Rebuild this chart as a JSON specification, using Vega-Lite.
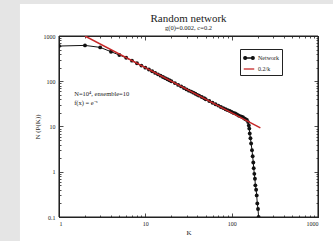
{
  "$schema": "https://vega.github.io/schema/vega-lite/v6.json",
  "autosize": "none",
  "padding": {"left": 59, "top": 36, "right": 15, "bottom": 24},
  "width": 259,
  "height": 181,
  "background": "white",
  "title": {
    "text": "Random network",
    "subtitle": "g(0)=0.002, c=0.2",
    "font": "Liberation Serif",
    "fontSize": 11,
    "fontWeight": "normal",
    "color": "#222",
    "subtitleFont": "Liberation Serif",
    "subtitleFontSize": 6.5,
    "subtitleColor": "#222",
    "subtitlePadding": 1,
    "anchor": "middle",
    "frame": "group",
    "offset": -34
  },
  "config": {
    "axis": {
      "grid": false,
      "labelFont": "Liberation Serif",
      "labelFontSize": 6,
      "labelColor": "#222",
      "titleFont": "Liberation Serif",
      "titleFontSize": 7,
      "titleFontWeight": "normal",
      "titleColor": "#222",
      "domainColor": "#222",
      "tickColor": "#222",
      "tickWidth": 0.8
    },
    "view": {"stroke": null}
  },
  "layer": [
    {
      "data": {"values": [{"part": "left margin"}]},
      "mark": {"type": "rect", "fill": "#e5e5e5", "clip": false},
      "encoding": {
        "x": {"datum": 0.1, "type": "quantitative", "scale": {"type": "log", "domain": [1, 1000]},
          "axis": {"orient": "top", "values": [2,3,4,5,6,7,8,9,20,30,40,50,60,70,80,90,200,300,400,500,600,700,800,900], "tickSize": -2, "labels": false, "title": null}},
        "x2": {"datum": 0.353},
        "y": {"datum": 7000, "type": "quantitative", "scale": {"type": "log", "domain": [0.1, 1000]},
          "axis": {"orient": "right", "values": [0.2,0.3,0.4,0.5,0.6,0.7,0.8,0.9,2,3,4,5,6,7,8,9,20,30,40,50,60,70,80,90,200,300,400,500,600,700,800,900], "tickSize": -2, "labels": false, "title": null}},
        "y2": {"datum": 0.01}
      }
    },
    {
      "data": {"values": [{"part": "top margin"}]},
      "mark": {"type": "rect", "fill": "#e5e5e5", "clip": false},
      "encoding": {
        "x": {"datum": 0.1, "type": "quantitative", "scale": {"type": "log", "domain": [1, 1000]}, "axis": null},
        "x2": {"datum": 100000},
        "y": {"datum": 5090, "type": "quantitative", "scale": {"type": "log", "domain": [0.1, 1000]}, "axis": null},
        "y2": {"datum": 7000}
      }
    },
    {
      "data": {"values": [{"part": "frame left"}]},
      "mark": {"type": "rule", "color": "#222", "strokeWidth": 1.1, "clip": false},
      "encoding": {
        "x": {"datum": 1, "type": "quantitative", "scale": {"type": "log", "domain": [1, 1000]}, "axis": null},
        "y": {"datum": 0.1, "type": "quantitative", "scale": {"type": "log", "domain": [0.1, 1000]}, "axis": null},
        "y2": {"datum": 1000}
      }
    },
    {
      "data": {"values": [{"part": "frame right"}]},
      "mark": {"type": "rule", "color": "#222", "strokeWidth": 1.1, "clip": false},
      "encoding": {
        "x": {"datum": 1000, "type": "quantitative", "scale": {"type": "log", "domain": [1, 1000]}, "axis": null},
        "y": {"datum": 0.1, "type": "quantitative", "scale": {"type": "log", "domain": [0.1, 1000]}, "axis": null},
        "y2": {"datum": 1000}
      }
    },
    {
      "data": {"values": [{"part": "frame bottom"}]},
      "mark": {"type": "rule", "color": "#222", "strokeWidth": 1.1, "clip": false},
      "encoding": {
        "x": {"datum": 1, "type": "quantitative", "scale": {"type": "log", "domain": [1, 1000]}, "axis": null},
        "x2": {"datum": 1000},
        "y": {"datum": 0.1, "type": "quantitative", "scale": {"type": "log", "domain": [0.1, 1000]}, "axis": null}
      }
    },
    {
      "data": {"values": [{"part": "frame top"}]},
      "mark": {"type": "rule", "color": "#222", "strokeWidth": 1.1, "clip": false},
      "encoding": {
        "x": {"datum": 1, "type": "quantitative", "scale": {"type": "log", "domain": [1, 1000]}, "axis": null},
        "x2": {"datum": 1000},
        "y": {"datum": 1000, "type": "quantitative", "scale": {"type": "log", "domain": [0.1, 1000]}, "axis": null}
      }
    },
    {
      "data": {"values": [
        {"k": 1, "n": 600, "series": "Network"},
        {"k": 2, "n": 620, "series": "Network"},
        {"k": 3, "n": 560, "series": "Network"},
        {"k": 4, "n": 450, "series": "Network"},
        {"k": 5, "n": 380, "series": "Network"},
        {"k": 6, "n": 330, "series": "Network"},
        {"k": 7, "n": 285, "series": "Network"},
        {"k": 8, "n": 250, "series": "Network"},
        {"k": 9, "n": 222, "series": "Network"},
        {"k": 10, "n": 200, "series": "Network"},
        {"k": 11, "n": 182, "series": "Network"},
        {"k": 12, "n": 166, "series": "Network"},
        {"k": 13, "n": 153, "series": "Network"},
        {"k": 14, "n": 142, "series": "Network"},
        {"k": 15, "n": 133, "series": "Network"},
        {"k": 16, "n": 124, "series": "Network"},
        {"k": 17, "n": 117, "series": "Network"},
        {"k": 18, "n": 111, "series": "Network"},
        {"k": 19, "n": 105, "series": "Network"},
        {"k": 20, "n": 100, "series": "Network"},
        {"k": 22, "n": 91, "series": "Network"},
        {"k": 24, "n": 83, "series": "Network"},
        {"k": 26, "n": 77, "series": "Network"},
        {"k": 28, "n": 71, "series": "Network"},
        {"k": 30, "n": 66, "series": "Network"},
        {"k": 32, "n": 62, "series": "Network"},
        {"k": 34, "n": 59, "series": "Network"},
        {"k": 36, "n": 56, "series": "Network"},
        {"k": 38, "n": 53, "series": "Network"},
        {"k": 40, "n": 50, "series": "Network"},
        {"k": 42, "n": 48, "series": "Network"},
        {"k": 45, "n": 45, "series": "Network"},
        {"k": 48, "n": 42, "series": "Network"},
        {"k": 50, "n": 40, "series": "Network"},
        {"k": 55, "n": 36.5, "series": "Network"},
        {"k": 60, "n": 33.5, "series": "Network"},
        {"k": 65, "n": 31, "series": "Network"},
        {"k": 70, "n": 29, "series": "Network"},
        {"k": 75, "n": 27, "series": "Network"},
        {"k": 80, "n": 25.5, "series": "Network"},
        {"k": 85, "n": 24, "series": "Network"},
        {"k": 90, "n": 23, "series": "Network"},
        {"k": 95, "n": 22, "series": "Network"},
        {"k": 100, "n": 21, "series": "Network"},
        {"k": 105, "n": 20, "series": "Network"},
        {"k": 110, "n": 19.5, "series": "Network"},
        {"k": 115, "n": 18.5, "series": "Network"},
        {"k": 120, "n": 17.5, "series": "Network"},
        {"k": 125, "n": 17, "series": "Network"},
        {"k": 130, "n": 16.5, "series": "Network"},
        {"k": 135, "n": 16, "series": "Network"},
        {"k": 140, "n": 15, "series": "Network"},
        {"k": 145, "n": 14.5, "series": "Network"},
        {"k": 150, "n": 14, "series": "Network"},
        {"k": 155, "n": 12.5, "series": "Network"},
        {"k": 158, "n": 10.5, "series": "Network"},
        {"k": 160, "n": 9, "series": "Network"},
        {"k": 162, "n": 7, "series": "Network"},
        {"k": 165, "n": 5.5, "series": "Network"},
        {"k": 168, "n": 4.2, "series": "Network"},
        {"k": 172, "n": 3, "series": "Network"},
        {"k": 175, "n": 2.2, "series": "Network"},
        {"k": 178, "n": 1.6, "series": "Network"},
        {"k": 180, "n": 1.2, "series": "Network"},
        {"k": 183, "n": 0.9, "series": "Network"},
        {"k": 186, "n": 0.7, "series": "Network"},
        {"k": 188, "n": 0.5, "series": "Network"},
        {"k": 192, "n": 0.4, "series": "Network"},
        {"k": 195, "n": 0.3, "series": "Network"},
        {"k": 198, "n": 0.2, "series": "Network"},
        {"k": 202, "n": 0.15, "series": "Network"},
        {"k": 205, "n": 0.1, "series": "Network"}
      ]},
      "mark": {"type": "line", "strokeWidth": 1, "clip": true, "point": {"filled": true, "size": 15}},
      "encoding": {
        "x": {"field": "k", "type": "quantitative", "scale": {"type": "log", "domain": [1, 1000]},
          "axis": {"orient": "bottom", "values": [1, 10, 100, 1000], "format": "~g", "tickSize": -4, "labelPadding": 7, "title": "K", "titlePadding": 2}},
        "y": {"field": "n", "type": "quantitative", "scale": {"type": "log", "domain": [0.1, 1000]},
          "axis": {"orient": "left", "values": [0.1, 1, 10, 100, 1000], "format": "~g", "tickSize": -4, "labelPadding": 8, "title": "N (P(K))", "titlePadding": 3}},
        "color": {"field": "series", "type": "nominal",
          "scale": {"domain": ["Network", "0.2/k"], "range": ["#111111", "#c62828"]},
          "legend": {
            "orient": "none", "legendX": 181, "legendY": 13, "title": null,
            "strokeColor": "#222", "fillColor": "white", "padding": 3,
            "labelFont": "Liberation Serif", "labelFontSize": 6, "labelColor": "#222",
            "symbolSize": 110, "symbolStrokeWidth": 1.3, "rowPadding": 0, "labelOffset": 3,
            "encode": {"symbols": {"update": {
              "shape": {"signal": "datum.value === 'Network' ? 'M-1,0L1,0M-1,0A0.27,0.27 0 1,0 -0.46,0A0.27,0.27 0 1,0 -1,0ZM0.46,0A0.27,0.27 0 1,0 1,0A0.27,0.27 0 1,0 0.46,0Z' : 'M-1,0L1,0'"},
              "fill": {"signal": "datum.value === 'Network' ? '#111111' : 'transparent'"}
            }}}
          }}
      }
    },
    {
      "data": {"values": [
        {"k": 2, "n": 1000, "series": "0.2/k"},
        {"k": 215, "n": 9.3, "series": "0.2/k"}
      ]},
      "mark": {"type": "line", "strokeWidth": 1.5, "clip": true},
      "encoding": {
        "x": {"field": "k", "type": "quantitative", "scale": {"type": "log", "domain": [1, 1000]},
          "axis": {"orient": "top", "values": [1, 10, 100, 1000], "tickSize": -4, "labels": false, "title": null}},
        "y": {"field": "n", "type": "quantitative", "scale": {"type": "log", "domain": [0.1, 1000]},
          "axis": {"orient": "right", "values": [0.1, 1, 10, 100, 1000], "tickSize": -4, "labels": false, "title": null}},
        "color": {"field": "series", "type": "nominal"}
      }
    },
    {
      "data": {"values": [
        {"k": 1.5, "n": 52, "label": "N=10⁴, ensemble=10"},
        {"k": 1.5, "n": 33, "label": "f(x) = e⁻ˣ"}
      ]},
      "mark": {"type": "text", "align": "left", "baseline": "middle", "font": "Liberation Serif", "fontSize": 6.5, "color": "#222"},
      "encoding": {
        "x": {"field": "k", "type": "quantitative", "scale": {"type": "log", "domain": [1, 1000]},
          "axis": {"orient": "bottom", "values": [2,3,4,5,6,7,8,9,20,30,40,50,60,70,80,90,200,300,400,500,600,700,800,900], "tickSize": -2, "labels": false, "title": null}},
        "y": {"field": "n", "type": "quantitative", "scale": {"type": "log", "domain": [0.1, 1000]},
          "axis": {"orient": "left", "values": [0.2,0.3,0.4,0.5,0.6,0.7,0.8,0.9,2,3,4,5,6,7,8,9,20,30,40,50,60,70,80,90,200,300,400,500,600,700,800,900], "tickSize": -2, "labels": false, "title": null}},
        "text": {"field": "label", "type": "nominal"}
      }
    }
  ],
  "resolve": {"axis": {"x": "independent", "y": "independent"}}
}
